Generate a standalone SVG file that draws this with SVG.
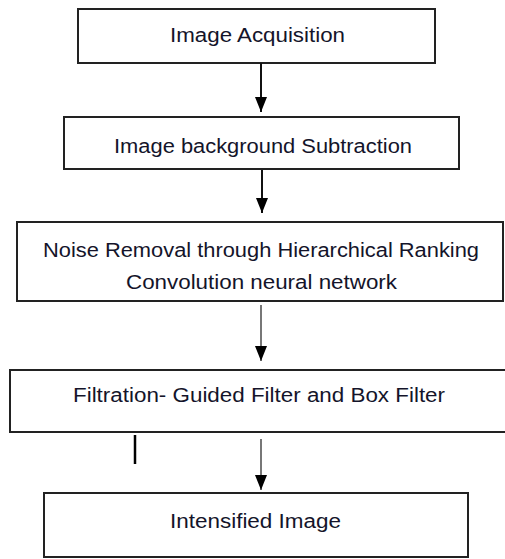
<svg xmlns="http://www.w3.org/2000/svg" width="505" height="559" viewBox="0 0 505 559">
<style>
.box{fill:#fff;stroke:#222;stroke-width:2}
.lbl{font-family:"Liberation Sans",Arial,sans-serif;font-size:20px;fill:#14142a;text-anchor:middle}
.conn{stroke:#111;stroke-width:2;fill:none}
.conn.gray{stroke:#555;stroke-width:1.6}
</style>
<defs>
<marker id="ah" markerUnits="userSpaceOnUse" markerWidth="16" markerHeight="12" refX="15" refY="6" orient="auto" viewBox="0 0 16 12">
<path d="M0,0 L15,6 L0,12 Z" fill="#000"/>
</marker>
</defs>
<rect width="505" height="559" fill="#fff"/>
<g id="n1">
<rect class="box" x="78" y="9" width="357" height="54"/>
<text class="lbl" x="257.5" y="42" textLength="175" lengthAdjust="spacingAndGlyphs">Image Acquisition</text>
</g>
<g id="n2">
<rect class="box" x="64" y="117" width="395" height="52"/>
<text class="lbl" x="263" y="153" textLength="298" lengthAdjust="spacingAndGlyphs">Image background Subtraction</text>
</g>
<g id="n3">
<rect class="box" x="17" y="222" width="486" height="79"/>
<text class="lbl" x="261" y="257" textLength="436" lengthAdjust="spacingAndGlyphs">Noise Removal through Hierarchical Ranking</text>
<text class="lbl" x="261.5" y="289" textLength="271" lengthAdjust="spacingAndGlyphs">Convolution neural network</text>
</g>
<g id="n4">
<rect class="box" x="10" y="370" width="500" height="62"/>
<text class="lbl" x="259" y="402" textLength="372" lengthAdjust="spacingAndGlyphs">Filtration- Guided Filter and Box Filter</text>
</g>
<g id="n5">
<rect class="box" x="44" y="493" width="424" height="64"/>
<text class="lbl" x="255.5" y="528" textLength="171" lengthAdjust="spacingAndGlyphs">Intensified Image</text>
</g>
<g id="connectors">
<line class="conn" x1="261" y1="63" x2="261" y2="112" marker-end="url(#ah)"/>
<line class="conn" x1="262" y1="170" x2="262" y2="213" marker-end="url(#ah)"/>
<line class="conn gray" x1="261" y1="305" x2="261" y2="361" marker-end="url(#ah)"/>
<line class="conn gray" x1="261" y1="439" x2="261" y2="490" marker-end="url(#ah)"/>
<line x1="135" y1="435" x2="135" y2="464" stroke="#000" stroke-width="2.5"/>
</g>
</svg>
